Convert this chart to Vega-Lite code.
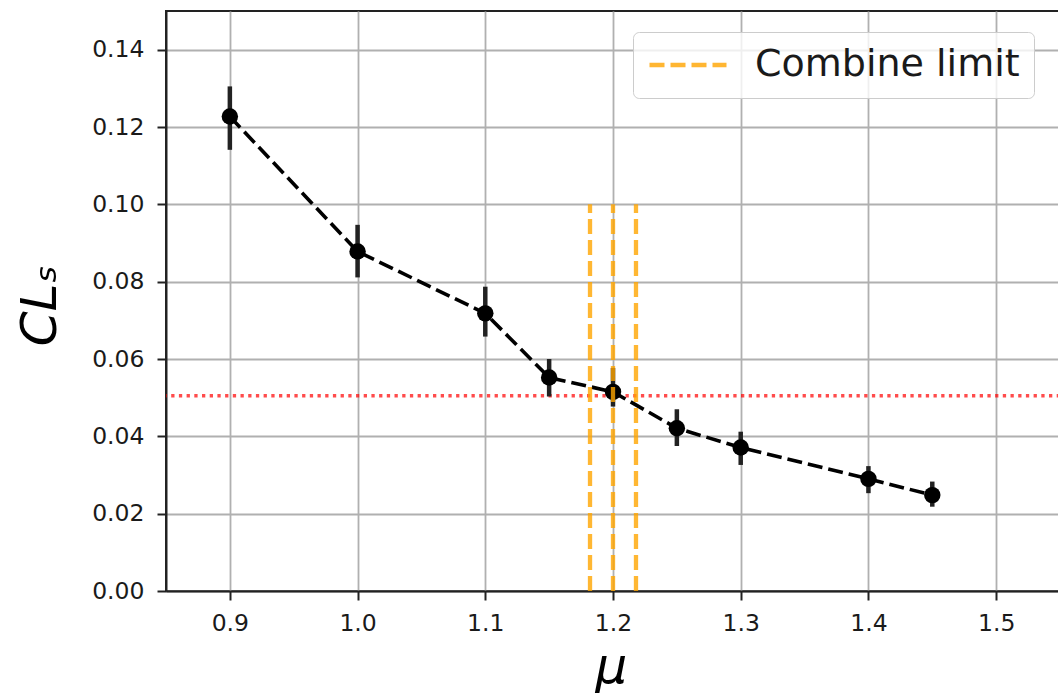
{
  "$schema": "https://vega.github.io/schema/vega-lite/v6.json",
  "width": 894,
  "height": 580,
  "autosize": "none",
  "padding": {"left": 166, "top": 11, "right": 0, "bottom": 102},
  "background": "white",
  "config": {
    "font": "DejaVu Sans",
    "view": {"stroke": "#222222", "strokeWidth": 2},
    "axis": {
      "domainColor": "#222222",
      "domainWidth": 2,
      "tickColor": "#222222",
      "tickWidth": 2,
      "tickSize": 9,
      "labelFontSize": 23.5,
      "labelColor": "#1a1a1a",
      "titleColor": "#000000",
      "titleFontWeight": "normal",
      "gridColor": "#b0b0b0",
      "gridWidth": 1.8,
      "grid": true
    },
    "axisX": {"labelPadding": 11.5},
    "axisY": {"labelPadding": 13}
  },
  "datasets": {
    "points": [
      {"mu": 0.9, "cls": 0.1227, "lo": 0.1141, "hi": 0.1305},
      {"mu": 1.0, "cls": 0.0878, "lo": 0.0811, "hi": 0.0947},
      {"mu": 1.1, "cls": 0.0718, "lo": 0.0658, "hi": 0.0787},
      {"mu": 1.15, "cls": 0.0552, "lo": 0.0503, "hi": 0.0600},
      {"mu": 1.2, "cls": 0.0515, "lo": 0.0477, "hi": 0.0577},
      {"mu": 1.25, "cls": 0.0421, "lo": 0.0375, "hi": 0.0470},
      {"mu": 1.3, "cls": 0.0371, "lo": 0.0326, "hi": 0.0412},
      {"mu": 1.4, "cls": 0.0290, "lo": 0.0253, "hi": 0.0323},
      {"mu": 1.45, "cls": 0.0248, "lo": 0.0218, "hi": 0.0283}
    ],
    "limits": [
      {"mu": 1.182, "cls": 0, "top": 0.1},
      {"mu": 1.2, "cls": 0, "top": 0.1},
      {"mu": 1.218, "cls": 0, "top": 0.1}
    ],
    "threshold": [{"cls": 0.0505}]
  },
  "layer": [
    {
      "data": {"name": "threshold"},
      "mark": {"type": "rule", "color": "red", "opacity": 0.7, "strokeWidth": 3.3, "strokeDash": [3.3, 4.4]},
      "encoding": {
        "y": {"field": "cls", "type": "quantitative", "scale": {"domain": [0, 0.15], "nice": false, "zero": false},
          "axis": {"title": "CLₛ", "values": [0, 0.02, 0.04, 0.06, 0.08, 0.1, 0.12, 0.14], "format": ".2f", "titleFontSize": 50, "titleFontStyle": "italic", "titleX": -111, "titleY": 294, "titleAngle": -90, "titleBaseline": "alphabetic", "titleAlign": "center"}}
      }
    },
    {
      "data": {"name": "points"},
      "mark": {"type": "rule", "color": "#222222", "strokeWidth": 4.5},
      "encoding": {
        "x": {"field": "mu", "type": "quantitative", "scale": {"domain": [0.85, 1.55], "nice": false, "zero": false},
          "axis": {"title": "μ", "values": [0.9, 1.0, 1.1, 1.2, 1.3, 1.4, 1.5], "format": ".1f", "titleFontSize": 50, "titleFontStyle": "italic", "titleX": 445, "titleY": 91, "titleBaseline": "alphabetic", "titleAlign": "center"}},
        "y": {"field": "lo", "type": "quantitative", "scale": {"domain": [0, 0.15], "nice": false, "zero": false},
          "axis": {"title": "CLₛ", "values": [0, 0.02, 0.04, 0.06, 0.08, 0.1, 0.12, 0.14], "format": ".2f", "titleFontSize": 50, "titleFontStyle": "italic", "titleX": -111, "titleY": 294, "titleAngle": -90, "titleBaseline": "alphabetic", "titleAlign": "center"}},
        "y2": {"field": "hi"}
      }
    },
    {
      "data": {"name": "points"},
      "mark": {"type": "line", "color": "black", "strokeWidth": 3.6, "strokeDash": [15, 6]},
      "encoding": {
        "x": {"field": "mu", "type": "quantitative", "scale": {"domain": [0.85, 1.55], "nice": false, "zero": false}},
        "y": {"field": "cls", "type": "quantitative", "scale": {"domain": [0, 0.15], "nice": false, "zero": false}}
      }
    },
    {
      "data": {"name": "points"},
      "mark": {"type": "point", "filled": true, "color": "black", "opacity": 1, "size": 270},
      "encoding": {
        "x": {"field": "mu", "type": "quantitative", "scale": {"domain": [0.85, 1.55], "nice": false, "zero": false}},
        "y": {"field": "cls", "type": "quantitative", "scale": {"domain": [0, 0.15], "nice": false, "zero": false}}
      }
    },
    {
      "data": {"name": "limits"},
      "mark": {"type": "rule", "opacity": 0.8, "strokeWidth": 4.3, "strokeDash": [15, 6]},
      "encoding": {
        "x": {"field": "mu", "type": "quantitative", "scale": {"domain": [0.85, 1.55], "nice": false, "zero": false}},
        "y": {"field": "cls", "type": "quantitative", "scale": {"domain": [0, 0.15], "nice": false, "zero": false}},
        "y2": {"field": "top"},
        "color": {
          "datum": "Combine limit",
          "type": "nominal",
          "scale": {"range": ["orange"]},
          "legend": {
            "title": null,
            "orient": "none",
            "legendX": 467,
            "legendY": 21,
            "symbolType": "stroke",
            "symbolSize": 5929,
            "symbolStrokeWidth": 4.3,
            "symbolDash": [15, 6],
            "symbolOpacity": 0.8,
            "labelFontSize": 38,
            "labelLimit": 500,
            "labelOffset": 26,
            "labelColor": "#1a1a1a",
            "padding": 14,
            "fillColor": "rgba(255,255,255,0.8)",
            "strokeColor": "#cccccc",
            "cornerRadius": 6,
            "clipHeight": 38
          }
        }
      }
    }
  ]
}
